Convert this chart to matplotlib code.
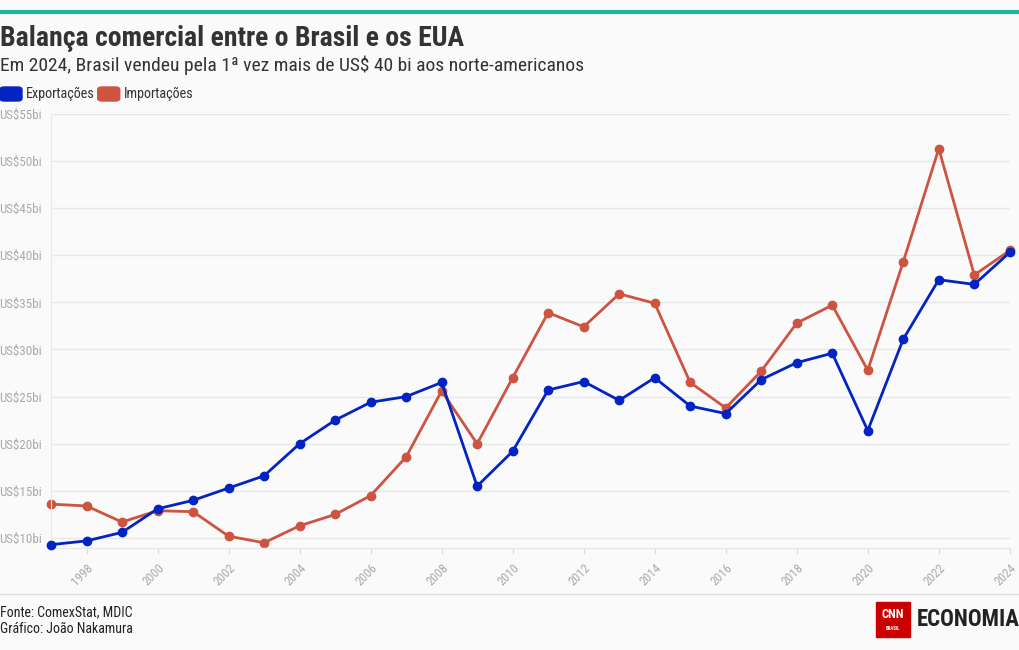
import matplotlib.pyplot as plt
from matplotlib.patches import FancyBboxPatch, Rectangle
from matplotlib.lines import Line2D

plt.rcParams['font.family'] = ['Roboto Condensed', 'Roboto', 'DejaVu Sans']

anos = list(range(1997, 2025))
exportacoes = [9.3, 9.7, 10.6, 13.1, 14.0, 15.3, 16.6, 20.0, 22.5, 24.4, 25.0, 26.5,
               15.5, 19.2, 25.7, 26.6, 24.6, 27.0, 24.0, 23.2, 26.8, 28.6, 29.6,
               21.4, 31.1, 37.4, 36.9, 40.3]
importacoes = [13.6, 13.4, 11.7, 12.9, 12.8, 10.2, 9.5, 11.3, 12.5, 14.5, 18.6, 25.6,
               20.0, 27.0, 33.9, 32.4, 35.9, 34.9, 26.5, 23.8, 27.7, 32.8, 34.7,
               27.8, 39.3, 51.3, 37.9, 40.5]
y_ticks = [10, 15, 20, 25, 30, 35, 40, 45, 50, 55]
x_ticks = list(range(1998, 2025, 2))

bg = '#fafafa'
azul = '#0324c2'
vermelho = '#cc5440'
cinza = '#aaaaaa'

fig = plt.figure(figsize=(10.2, 6.5), dpi=100, facecolor=bg)
ax = fig.add_axes([0.05, 0.157, 0.94, 0.668], facecolor=bg)

ax.plot(anos, exportacoes, color=azul, lw=2, marker='o', ms=6, clip_on=False, zorder=3)
ax.plot(anos, importacoes, color=vermelho, lw=2, marker='o', ms=6, clip_on=False, zorder=2)

ax.set_xlim(1997, 2024)
ax.set_ylim(8.95, 55)
ax.set_yticks(y_ticks)
ax.set_yticklabels(['US${}bi'.format(v) for v in y_ticks])
ax.set_xticks(x_ticks)
ax.set_xticklabels([str(a) for a in x_ticks], rotation=45, ha='right', rotation_mode='anchor')
ax.grid(axis='y', color='#e8e8e8', lw=1)
ax.tick_params(axis='y', length=0, pad=6.5, labelsize=9.4, labelcolor=cinza)
ax.tick_params(axis='x', length=4, color='#dddddd', pad=6, labelsize=9, labelcolor=cinza)
for s in ['top', 'right', 'bottom']:
    ax.spines[s].set_visible(False)
ax.spines['left'].set_color('#e8e8e8')
ax.axhline(8.95, color='#e8e8e8', lw=1, clip_on=False)

# linha superior
fig.add_artist(Line2D([0, 1], [1 - 12 / 650] * 2, color='#1db89c', lw=3))

fig.text(0.0, 1 - 38 / 650, 'Balança comercial entre o Brasil e os EUA', fontsize=20,
         fontweight='bold', color='#333333', va='center', ha='left')
fig.text(0.0, 1 - 65 / 650, 'Em 2024, Brasil vendeu pela 1ª vez mais de US$ 40 bi aos norte-americanos',
         fontsize=14, color='#333333', va='center', ha='left')

# legenda
renderer = fig.canvas.get_renderer()
x0 = 0
for cor, txt in [(azul, 'Exportações'), (vermelho, 'Importações')]:
    fig.add_artist(FancyBboxPatch((x0 / 1020, 1 - 101 / 650), 22 / 1020, 14 / 650,
                                  boxstyle='round,pad=0,rounding_size=0.004',
                                  transform=fig.transFigure, color=cor))
    t = fig.text((x0 + 26) / 1020, 1 - 94 / 650, txt, fontsize=10.2, color='#333333',
                 va='center', ha='left')
    x0 = t.get_window_extent(renderer).x1 + 3

# rodape
fig.add_artist(Line2D([0, 1], [1 - 594 / 650] * 2, color='#dddddd', lw=1))
fig.text(0.0, 1 - 612 / 650, 'Fonte: ComexStat, MDIC', fontsize=10, color='#222222', va='center')
fig.text(0.0, 1 - 629 / 650, 'Gráfico: João Nakamura', fontsize=10, color='#222222', va='center')

fig.add_artist(Rectangle((876 / 1020, 1 - 637 / 650), 34 / 1020, 35 / 650,
                         transform=fig.transFigure, color='#cc0000'))
fig.text(893 / 1020, 1 - 615 / 650, 'CNN', fontsize=9, fontweight='bold', color='white',
         ha='center', va='center')
fig.text(893 / 1020, 1 - 628 / 650, 'BRASIL', fontsize=3.5, fontweight='bold', color='white',
         ha='center', va='center')
fig.text(917 / 1020, 1 - 620 / 650, 'ECONOMIA', fontsize=16.5, fontweight='bold', color='#222222',
         ha='left', va='center')

fig.savefig('out.png', dpi=100, facecolor=bg)
